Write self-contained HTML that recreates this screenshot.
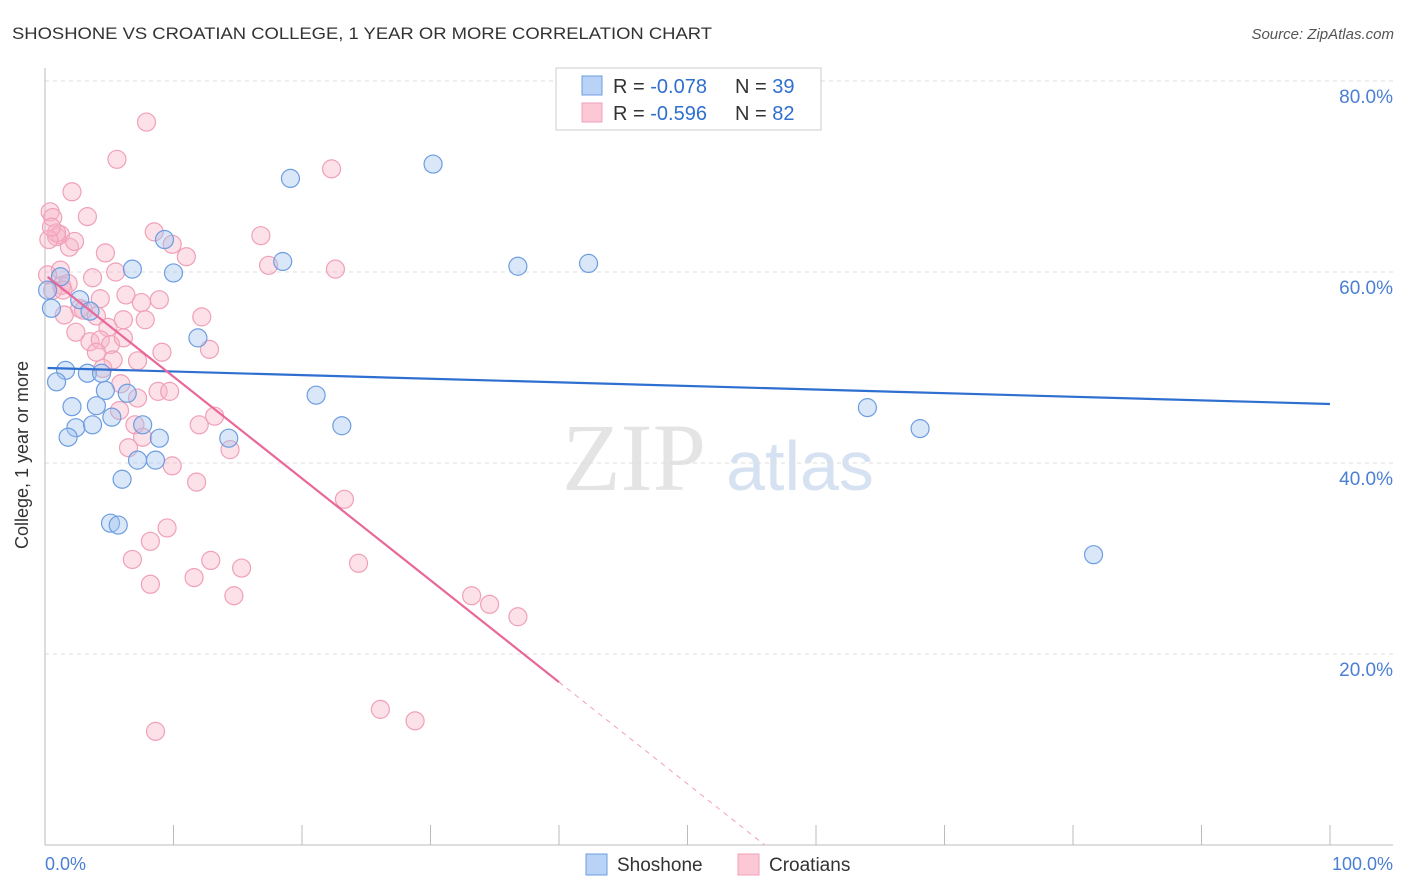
<!DOCTYPE html>
<html><head><meta charset="utf-8"><style>
body{margin:0;background:#fff;font-family:"Liberation Sans",sans-serif}
</style></head><body>
<svg id="c" width="1406" height="892" style="display:block">
<text x="12" y="39" font-size="17" fill="#333" textLength="700" lengthAdjust="spacingAndGlyphs">SHOSHONE VS CROATIAN COLLEGE, 1 YEAR OR MORE CORRELATION CHART</text>
<text x="1394" y="39" font-size="15" fill="#555" font-style="italic" text-anchor="end">Source: ZipAtlas.com</text>
<text x="634" y="490" font-size="96" fill="#e4e4e4" font-family="Liberation Serif,serif" text-anchor="middle">ZIP</text>
<text x="800" y="490" font-size="70" fill="#d6e2f2" text-anchor="middle">atlas</text>
<g id="grid"></g><g id="pts"></g><g id="lines"></g>
<text x="28" y="455" font-size="18" fill="#333" text-anchor="middle" transform="rotate(-90 28 455)">College, 1 year or more</text>
<g>
<rect x="556" y="68" width="265" height="62" fill="#fff" stroke="#ccc"/>
<rect x="582" y="76" width="20" height="19" fill="#b8d3f5" stroke="#6d9de0"/>
<rect x="582" y="103" width="20" height="19" fill="#fcc8d6" stroke="#f0a0b8"/>
<text x="613" y="93" font-size="20" fill="#333">R = <tspan fill="#2f6fd0">-0.078</tspan></text>
<text x="735" y="93" font-size="20" fill="#333">N = <tspan fill="#2f6fd0">39</tspan></text>
<text x="613" y="120" font-size="20" fill="#333">R = <tspan fill="#2f6fd0">-0.596</tspan></text>
<text x="735" y="120" font-size="20" fill="#333">N = <tspan fill="#2f6fd0">82</tspan></text>
</g>
<g>
<rect x="586" y="854" width="21" height="21" fill="#b8d3f5" stroke="#6d9de0"/>
<text x="617" y="871" font-size="19" fill="#333">Shoshone</text>
<rect x="738" y="854" width="21" height="21" fill="#fcc8d6" stroke="#f0a0b8"/>
<text x="769" y="871" font-size="19" fill="#333">Croatians</text>
</g>
<text x="45" y="870" font-size="18" fill="#4a7fd4">0.0%</text>
<text x="1393" y="870" font-size="18" fill="#4a7fd4" text-anchor="end">100.0%</text>
</svg>
<script>
const yTicks=[20,40,60,80];
const yTickLabels=["20.0%","40.0%","60.0%","80.0%"];
const xTicks=[0,10,20,30,40,50,60,70,80,90,100];
const shoshoneX=[19.1,30.2,9.3,18.5,36.8,42.3,6.8,10.0,1.2,0.2,0.5,2.7,3.5,11.9,1.6,0.9,3.3,4.4,4.7,6.4,2.1,4.0,5.2,2.4,3.7,1.8,7.6,8.9,14.3,21.1,23.1,64.0,68.1,7.2,8.6,6.0,5.1,5.7,81.6];
const shoshoneY=[69.8,71.3,63.4,61.1,60.6,60.9,60.3,59.9,59.5,58.1,56.2,57.1,55.9,53.1,49.7,48.5,49.4,49.4,47.6,47.3,45.9,46.0,44.8,43.7,44.0,42.7,44.0,42.6,42.6,47.1,43.9,45.8,43.6,40.3,40.3,38.3,33.7,33.5,30.4];
const croatX=[7.9,5.6,2.1,22.3,0.4,0.6,3.3,0.9,1.2,1.9,2.3,8.5,9.9,11.0,4.7,16.8,17.4,22.6,5.5,1.2,1.3,1.8,3.7,0.2,0.6,1.4,2.7,4.3,6.3,7.5,8.9,1.5,3.0,4.0,4.9,6.1,7.8,12.2,2.4,3.5,4.3,5.1,6.1,4.0,5.3,7.2,9.1,12.8,4.5,5.9,7.2,8.8,9.7,5.8,7.0,13.2,12.0,7.6,14.4,6.5,9.9,11.8,23.3,9.5,8.2,6.8,12.9,15.3,11.6,8.2,14.7,24.4,33.2,34.6,36.8,26.1,28.8,8.6,0.9,0.3,0.5];
const croatY=[75.7,71.8,68.4,70.8,66.3,65.7,65.8,63.7,63.9,62.6,63.2,64.2,62.9,61.6,62.0,63.8,60.7,60.3,60.0,60.2,58.6,58.8,59.4,59.7,58.1,58.1,56.2,57.2,57.6,56.8,57.1,55.5,56.0,55.4,54.2,55.0,55.0,55.3,53.7,52.7,52.9,52.4,53.1,51.6,50.8,50.7,51.6,51.9,49.9,48.3,46.8,47.5,47.5,45.5,44.0,44.9,44.0,42.7,41.4,41.6,39.7,38.0,36.2,33.2,31.8,29.9,29.8,29.0,28.0,27.3,26.1,29.5,26.1,25.2,23.9,14.2,13.0,11.9,64.1,63.4,64.7];
const shoshoneTrend=[49.95,46.18];
const croatTrend=[59.7,-1.066];
const NS="http://www.w3.org/2000/svg";
const X=v=>45+v*12.85, Y=v=>845-v*9.55;
function mk(tag,attrs,parent){const e=document.createElementNS(NS,tag);for(const k in attrs)e.setAttribute(k,attrs[k]);document.getElementById(parent).appendChild(e);return e;}
yTicks.forEach((t,i)=>{
 const g=mk('line',{x1:45,x2:1393,y1:Y(t),y2:Y(t),stroke:'#ddd','stroke-dasharray':'4,4'},'grid');
 
 
 const l=mk('text',{x:1393,y:Y(t)+22,'font-size':19,fill:'#4a7fd4','text-anchor':'end'},'grid');l.textContent=yTickLabels[i];
 
 
});
mk('line',{x1:45,x2:45,y1:68,y2:845,stroke:'#bbb'},'grid');
const ax=mk('line',{x1:45,x2:1393,y1:845,y2:845,stroke:'#bbb'},'grid');


xTicks.forEach(t=>{const k=mk('line',{x1:X(t),x2:X(t),y1:825,y2:845,stroke:'#bbb'},'grid');
 
 });
croatX.forEach((x,i)=>{const c=mk('circle',{cx:X(x),cy:Y(croatY[i]),r:9,fill:'rgba(248,180,200,0.4)',stroke:'#f0a0b8','stroke-width':1.2},'pts');
 
 });
shoshoneX.forEach((x,i)=>{const c=mk('circle',{cx:X(x),cy:Y(shoshoneY[i]),r:9,fill:'rgba(160,196,240,0.4)',stroke:'#6d9de0','stroke-width':1.2},'pts');
 
 });
const bl=mk('line',{x1:X(0.2),y1:Y(shoshoneTrend[0]),x2:X(100),y2:Y(shoshoneTrend[1]),stroke:'#2f6fd0','stroke-width':2.2},'lines');


const cy=x=>croatTrend[0]+croatTrend[1]*x;
const xe=40, x0=-croatTrend[0]/croatTrend[1];
const pl=mk('line',{x1:X(0.2),y1:Y(cy(0.2)),x2:X(xe),y2:Y(cy(xe)),stroke:'#e8689a','stroke-width':2.2},'lines');


const pd=mk('line',{x1:X(xe),y1:Y(cy(xe)),x2:X(x0),y2:Y(0),stroke:'#f0a0b8','stroke-width':1,'stroke-dasharray':'5,5'},'lines');


</script>
</body></html>
